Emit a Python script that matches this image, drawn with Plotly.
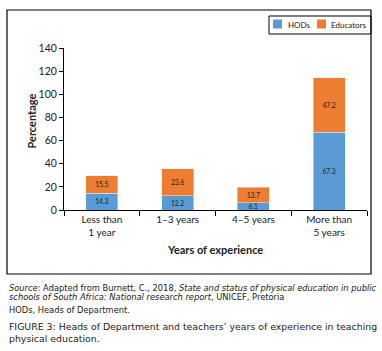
import plotly.graph_objects as go

categories = ["Less than<br>1 year", "1–3 years", "4–5 years", "More than<br>5 years"]
hods = [14.3, 12.2, 6.1, 67.3]
educators = [15.5, 23.6, 13.7, 47.2]
series_names = ["HODs", "Educators"]

BLUE = "#5B9BD5"
ORANGE = "#ED7D31"
CF = "Lato"

W, H = 382, 351
L, R, T, B = 64, 15, 48, 141
pw, ph = W - L - R, H - T - B

def px(x):
    return (x - L) / pw

def py(y):
    return 1 - (y - T) / ph

fig = go.Figure()
for name, vals, col in [(series_names[0], hods, BLUE), (series_names[1], educators, ORANGE)]:
    fig.add_bar(x=categories, y=vals, name=name, marker_color=col, showlegend=False,
                text=[f"{v:.1f}" for v in vals], textposition="inside", textangle=0,
                insidetextanchor="middle", textfont=dict(color="#222", size=10, family=CF),
                hoverinfo="skip")

fig.update_layout(
    width=W, height=H, margin=dict(l=L, r=R, t=T, b=B, autoexpand=False),
    barmode="stack", bargap=0.58,
    plot_bgcolor="white", paper_bgcolor="white",
    font=dict(family=CF, size=10, color="#222"),
    uniformtext=dict(minsize=6, mode="show"),
    xaxis=dict(showline=True, linecolor="black", linewidth=1, ticks="outside",
               tickson="boundaries", ticklen=5, tickcolor="black", automargin=False,
               tickfont=dict(size=10, family=CF), showgrid=False),
    yaxis=dict(range=[0, 140], dtick=20, showline=True, linecolor="black", linewidth=1,
               ticks="outside", ticklen=4, tickcolor="black", showgrid=False, automargin=False,
               zeroline=False, tickfont=dict(size=10.5, family=CF)),
)

# outer frame
fig.add_shape(type="rect", xref="paper", yref="paper",
              x0=px(7), x1=px(371), y0=py(274), y1=py(10),
              line=dict(color="black", width=1.2))

# legend (box, swatches, labels)
fig.add_shape(type="rect", xref="paper", yref="paper",
              x0=px(269), x1=px(371), y0=py(34), y1=py(16),
              line=dict(color="black", width=1))
for (x0, x1, tx, name, col) in [(273, 282, 286, series_names[0], BLUE),
                                (317, 326, 329, series_names[1], ORANGE)]:
    fig.add_shape(type="rect", xref="paper", yref="paper",
                  x0=px(x0), x1=px(x1), y0=py(28.5), y1=py(19.5),
                  line=dict(width=0), fillcolor=col)
    fig.add_annotation(text=name, xref="paper", yref="paper", x=px(tx), y=py(24.5),
                       xanchor="left", yanchor="middle", showarrow=False,
                       font=dict(size=8, family=CF, color="#222"))

fig.add_annotation(text="<b>Percentage</b>", xref="paper", yref="paper",
                   x=px(22), y=py(121), textangle=-90, showarrow=False,
                   font=dict(size=11, family=CF, color="#222"))
fig.add_annotation(text="<b>Years of experience</b>", xref="paper", yref="paper",
                   x=px(215), y=py(258), showarrow=False,
                   font=dict(size=11, family=CF, color="#222"))

CAP = "DejaVu Sans"
cap_lines = [
    ("<i>Source</i>: Adapted from Burnett, C., 2018, <i>State and status of physical education in public</i>", 288, 8.3),
    ("<i>schools of South Africa: National research report</i>, UNICEF, Pretoria", 297, 8.3),
    ("HODs, Heads of Department.", 310, 8.3),
    ("FIGURE 3: Heads of Department and teachers’ years of experience in teaching", 326, 9.35),
    ("physical education.", 338.5, 9.35),
]
for txt, yy, fs in cap_lines:
    fig.add_annotation(text=txt, xref="paper", yref="paper", x=px(7), y=py(yy),
                       xanchor="left", yanchor="middle", align="left", showarrow=False,
                       font=dict(size=fs, family=CAP, color="#222"))

fig.write_html("out.html", config={"displayModeBar": False},
               post_script="document.body.style.margin='0';")
